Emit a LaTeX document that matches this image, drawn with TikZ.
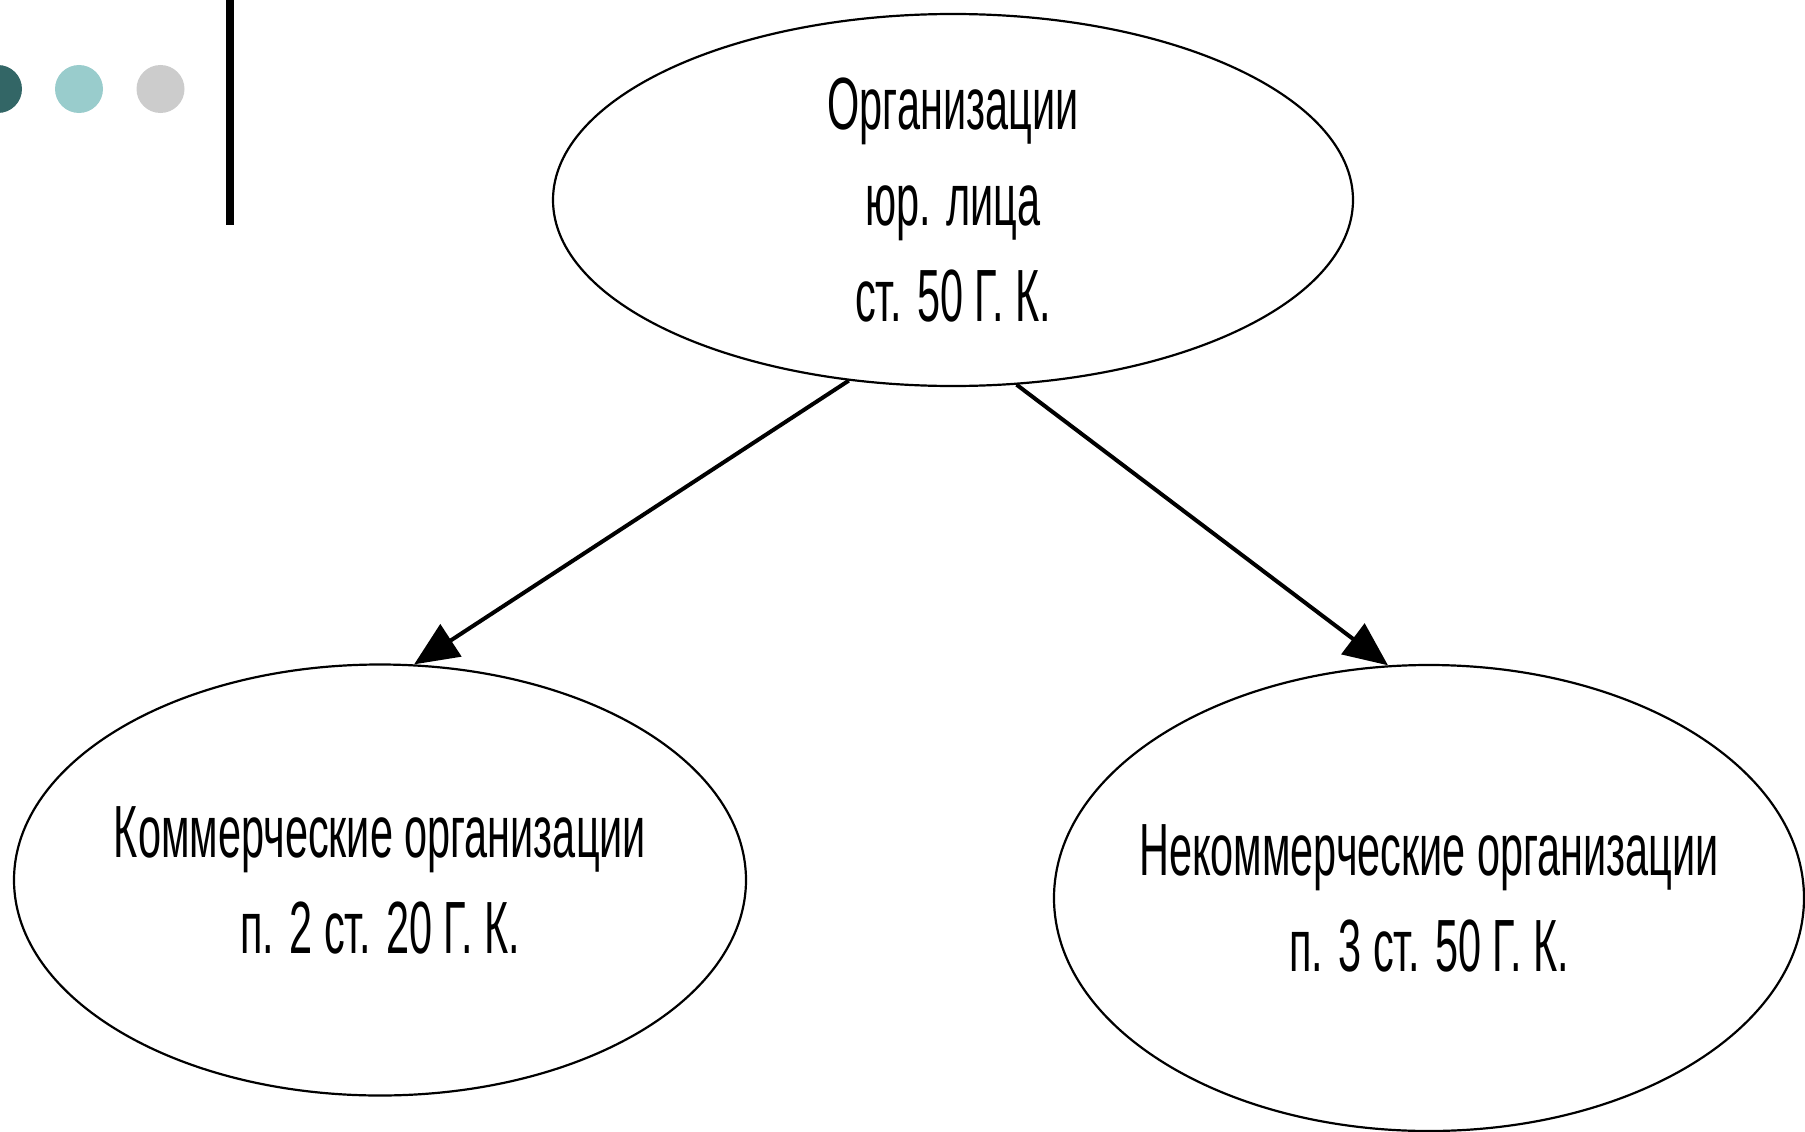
\documentclass[tikz,border=0pt]{standalone}
\usepackage{fontspec}
\setmainfont{Liberation Sans}[FakeStretch=0.56]
\usetikzlibrary{shapes.geometric,arrows.meta}
\definecolor{dotdark}{HTML}{336666}
\definecolor{dotteal}{HTML}{99CCCC}
\definecolor{dotgray}{HTML}{CCCCCC}
\tikzset{
  % the outline size is set only by minimum width/height
  oval/.style={ellipse, draw=black, line width=2.2pt, inner sep=-600pt, align=center,
    font=\fontsize{74}{96}\selectfont},
  link/.style={line width=4pt, -{Triangle[length=44pt,width=38pt]}},
}
\begin{document}
\begin{tikzpicture}[x=1pt,y=-1pt]
\useasboundingbox (0,0) rectangle (1805,1132);
% title decoration
\fill[dotdark] (-2,89) circle (24);
\fill[dotteal] (79,89) circle (24);
\fill[dotgray] (160.5,89) circle (24);
\fill[black] (226,0) rectangle (234,225);
% nodes
\node[oval, minimum width=800pt, minimum height=372pt] (top) at (953,200)
  {Организации\\юр. лица\\ст. 50 Г. К.};
\node[oval, minimum width=732pt, minimum height=431pt] (left) at (380,880)
  {Коммерческие организации\\п. 2 ст. 20 Г. К.};
\node[oval, minimum width=750pt, minimum height=466pt] (right) at (1429,898)
  {Некоммерческие организации\\п. 3 ст. 50 Г. К.};
% connectors
\draw[link] (top.240) -- (left.81);
\draw[link] (top.289) -- (right.100);
\end{tikzpicture}
\end{document}
